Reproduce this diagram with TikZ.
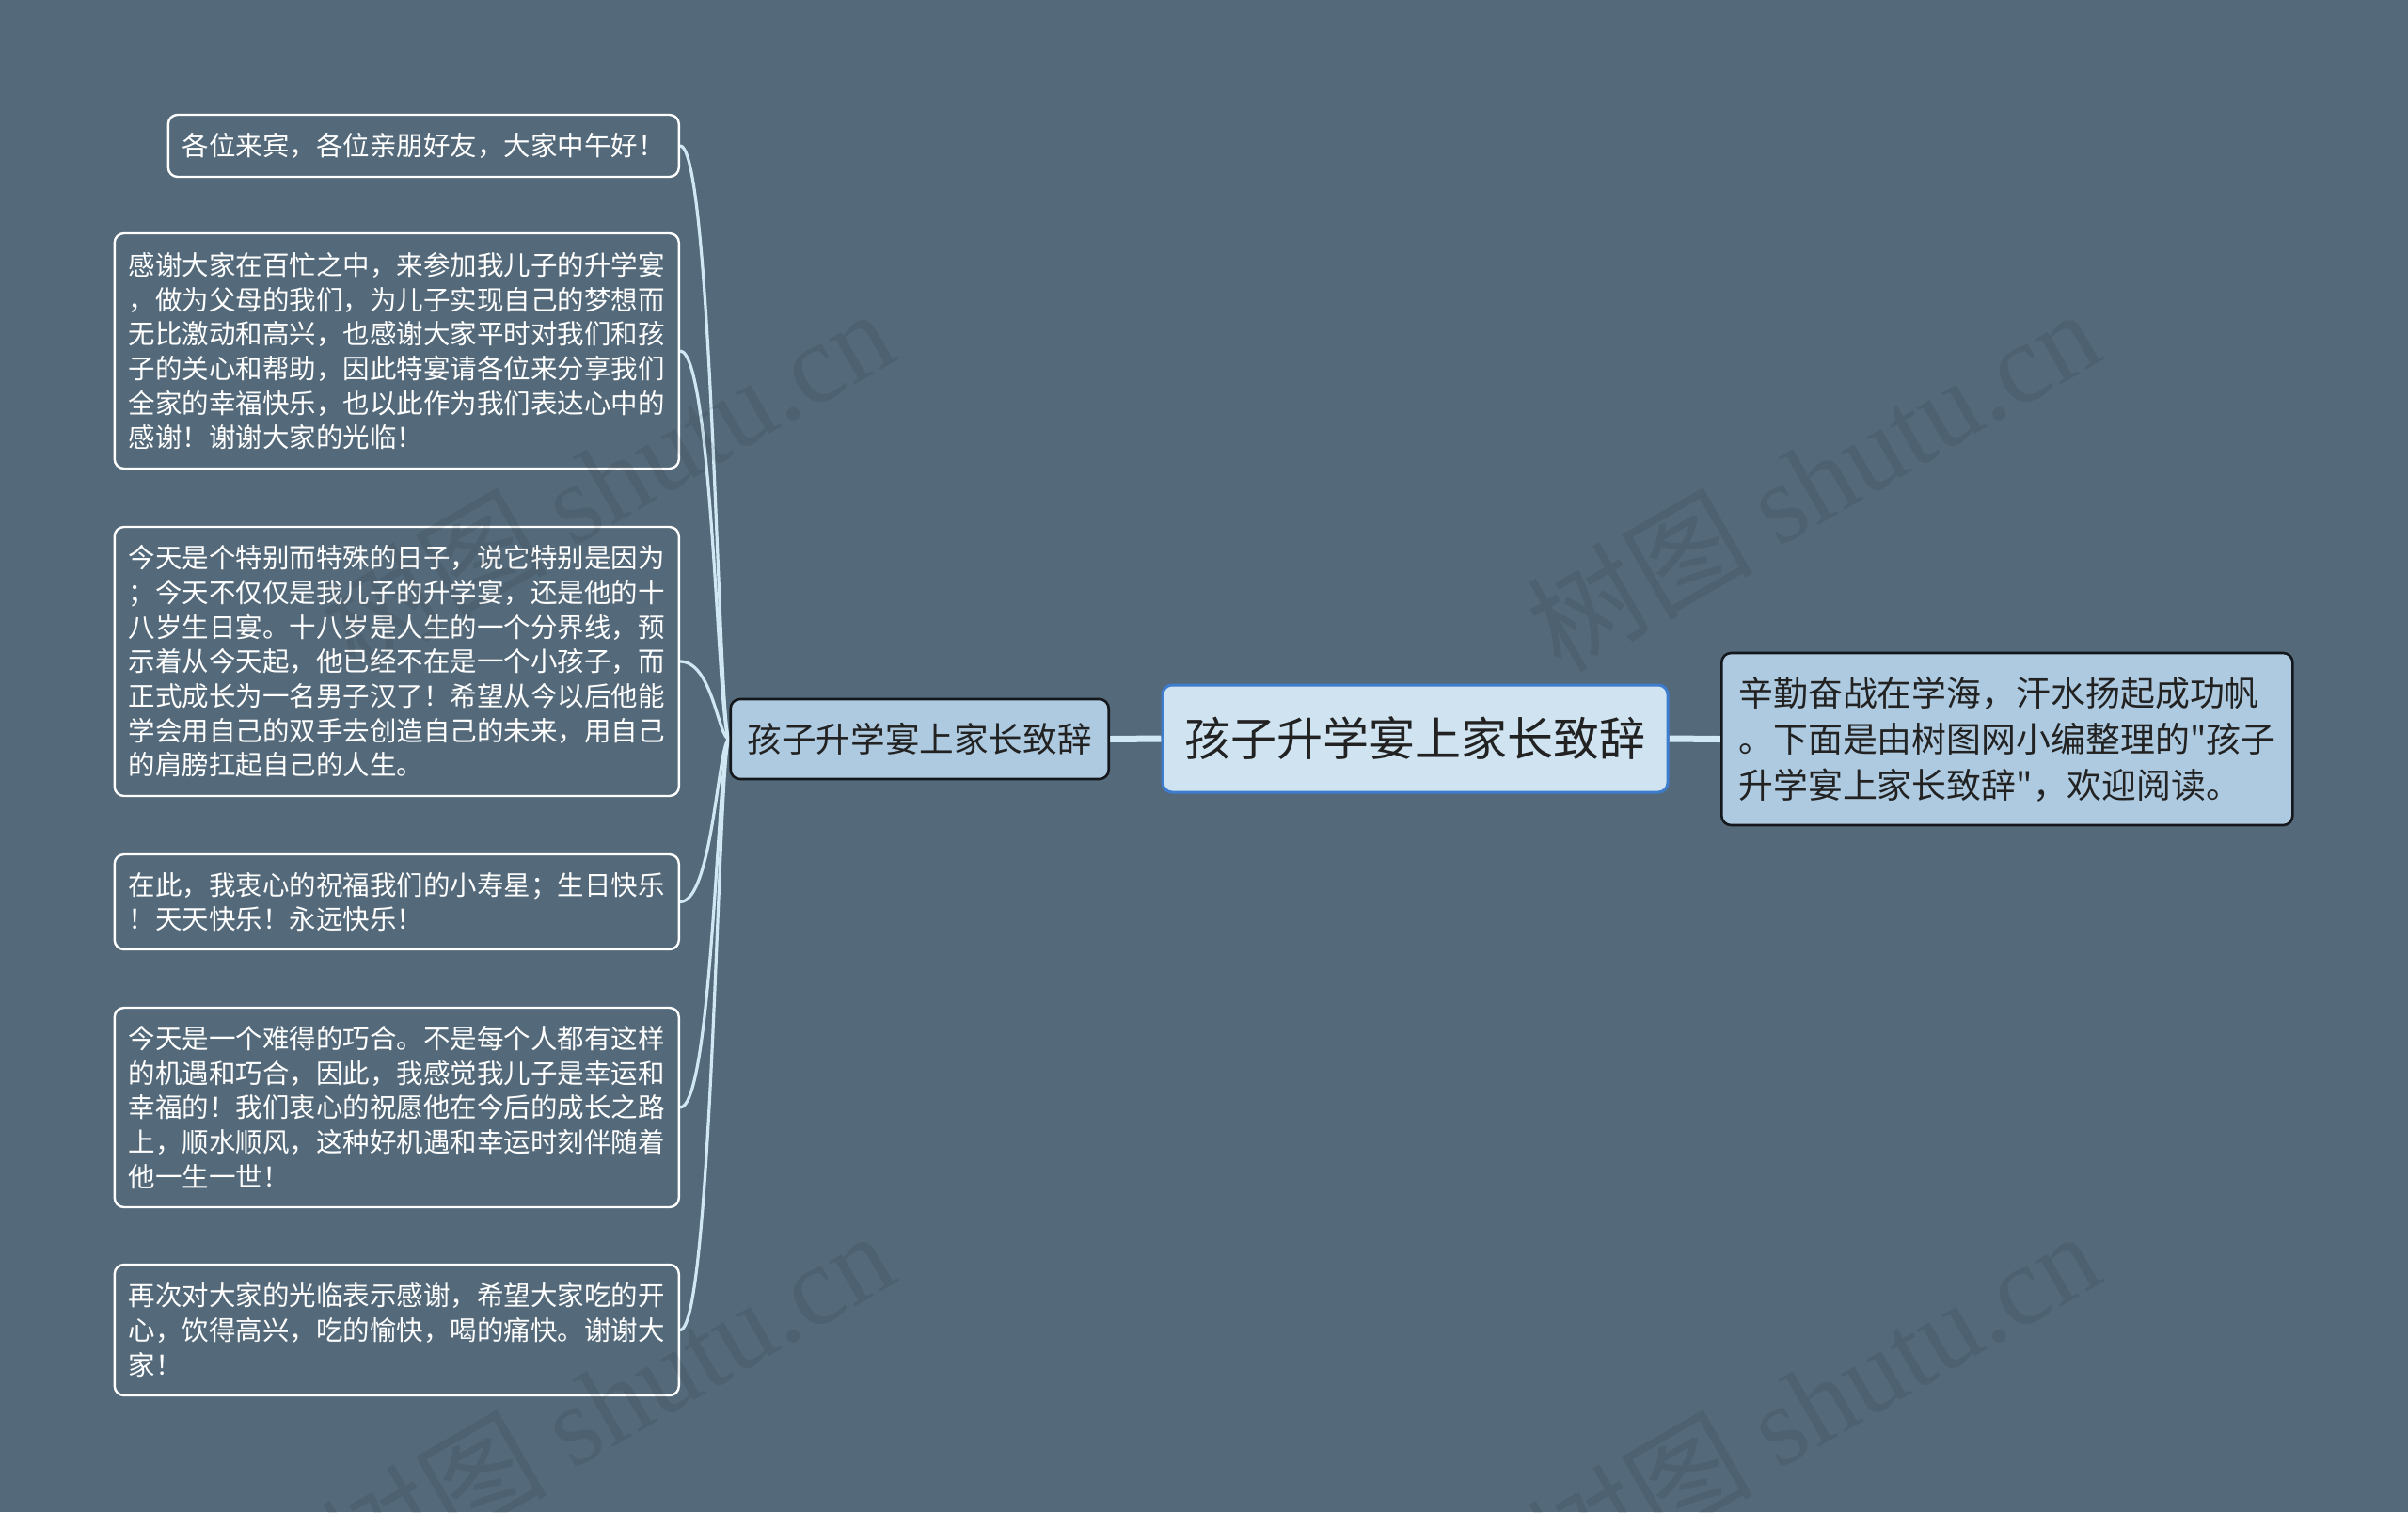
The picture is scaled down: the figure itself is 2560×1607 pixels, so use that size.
\documentclass[tikz,border=0pt]{standalone}
\usepackage{fontspec}
\setmainfont{Noto Sans CJK SC}
\newfontfamily\nomapfont{Noto Sans CJK SC}[Ligatures=TeXOff]
\newfontfamily\wmlatin{Liberation Serif}
\newcommand{\plainquote}{{\nomapfont\symbol{34}}}
\usetikzlibrary{calc}
\definecolor{bgc}{RGB}{84,106,122}
\definecolor{linec}{RGB}{208,232,244}
\definecolor{rootfill}{RGB}{207,227,241}
\definecolor{rootborder}{RGB}{62,124,206}
\definecolor{subfill}{RGB}{174,202,224}
\definecolor{txtdark}{RGB}{34,34,34}
\definecolor{subborder}{RGB}{20,24,28}
\pgfdeclarelayer{bglayer}
\pgfdeclarelayer{linelayer}
\pgfsetlayers{bglayer,linelayer,main}
\begin{document}
\begin{tikzpicture}[x=0.5pt,y=-0.5pt,
  leaf/.style={draw=white, line width=1.2pt, fill=bgc, rounded corners=5pt, text=white,
    align=left, inner xsep=7.5pt, inner ysep=0pt, anchor=east,
    font=\fontsize{14.25}{18.35}\selectfont},
  rootbox/.style={draw=rootborder, line width=1.5pt, fill=rootfill, rounded corners=5pt,
    text=txtdark, inner xsep=11.75pt, inner ysep=0pt, minimum height=57pt,
    font=\fontsize{24.5}{29}\selectfont},
  subbox/.style={draw=subborder, line width=1.3pt, fill=subfill, rounded corners=5pt,
    text=txtdark, inner xsep=9pt, inner ysep=0pt, font=\fontsize{18.3}{24.5}\selectfont},
  leafline/.style={draw=linec, line width=1.6pt},
  mainline/.style={draw=linec, line width=3.5pt},
  wm/.style={text=black, text opacity=0.08, font=\fontsize{60}{60}\selectfont, rotate=30}
]
\begin{pgfonlayer}{bglayer}
\fill[bgc] (0,0) rectangle (2560,1607);
\end{pgfonlayer}
\useasboundingbox (0,0) rectangle (2560,1607);

% central and first-level nodes
\node[rootbox] (root) at (1504.5,785) {孩子升学宴上家长致辞};
\node[subbox, anchor=east, minimum height=42.5pt] (main) at (1180,785.5) {孩子升学宴上家长致辞};
\node[subbox, anchor=west, minimum height=91.5pt, align=left, text width=285.5pt, font=\fontsize{18.45}{24.5}\selectfont] (intro) at (1829,785.5)
  {辛勤奋战在学海，汗水扬起成功帆\\。下面是由树图网小编整理的\plainquote 孩子\\升学宴上家长致辞\plainquote ，欢迎阅读。};

% leaves
\node[leaf, minimum height=33pt] (l1) at (723,155) {各位来宾，各位亲朋好友，大家中午好！};
\node[leaf, minimum height=125pt] (l2) at (723,373) {感谢大家在百忙之中，来参加我儿子的升学宴\\，做为父母的我们，为儿子实现自己的梦想而\\无比激动和高兴，也感谢大家平时对我们和孩\\子的关心和帮助，因此特宴请各位来分享我们\\全家的幸福快乐，也以此作为我们表达心中的\\感谢！谢谢大家的光临！};
\node[leaf, minimum height=143pt] (l3) at (723,703) {今天是个特别而特殊的日子，说它特别是因为\\；今天不仅仅是我儿子的升学宴，还是他的十\\八岁生日宴。十八岁是人生的一个分界线，预\\示着从今天起，他已经不在是一个小孩子，而\\正式成长为一名男子汉了！希望从今以后他能\\学会用自己的双手去创造自己的未来，用自己\\的肩膀扛起自己的人生。};
\node[leaf, minimum height=50.5pt] (l4) at (723,958.5) {在此，我衷心的祝福我们的小寿星；生日快乐\\！天天快乐！永远快乐！};
\node[leaf, minimum height=106pt] (l5) at (723,1177) {今天是一个难得的巧合。不是每个人都有这样\\的机遇和巧合，因此，我感觉我儿子是幸运和\\幸福的！我们衷心的祝愿他在今后的成长之路\\上，顺水顺风，这种好机遇和幸运时刻伴随着\\他一生一世！};
\node[leaf, minimum height=69.5pt] (l6) at (723,1413.5) {再次对大家的光临表示感谢，希望大家吃的开\\心，饮得高兴，吃的愉快，喝的痛快。谢谢大\\家！};

% connectors
\begin{pgfonlayer}{linelayer}
\draw[mainline] (main.east) -- (root.west);
\draw[mainline] (root.east) -- (intro.west);
\foreach \n in {l1,l2,l3,l4,l5,l6}{
  \draw[leafline] (main.west) .. controls +(-12,0) and +(35,0) .. (\n.east);
}
\end{pgfonlayer}

% watermarks
\node[wm] (wm1) at (645,509) {树图 {\wmlatin shutu.cn}};
\node[wm] (wm2) at (1927,509) {树图 {\wmlatin shutu.cn}};
\node[wm] (wm3) at (645,1489) {树图 {\wmlatin shutu.cn}};
\node[wm] (wm4) at (1927,1489) {树图 {\wmlatin shutu.cn}};
\end{tikzpicture}
\end{document}
